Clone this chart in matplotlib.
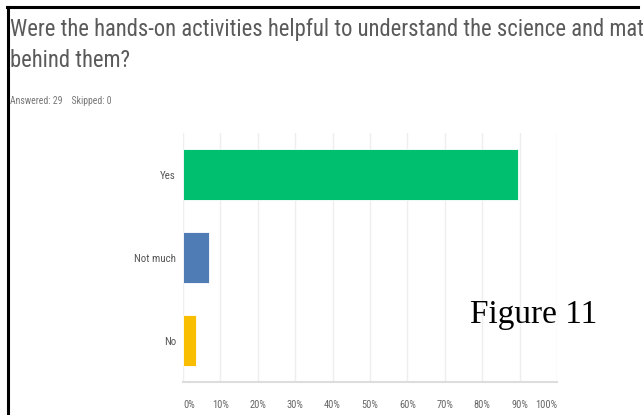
import matplotlib
matplotlib.use('Agg')
import matplotlib.pyplot as plt
from matplotlib.lines import Line2D

### données

reponses = ['Yes', 'Not much', 'No']
pourcentages = [89.66, 6.90, 3.45]
couleurs = ['#00BF6F', '#507CB6', '#F9BE00']
graduations = [0, 10, 20, 30, 40, 50, 60, 70, 80, 90, 100]
titre = 'Were the hands-on activities helpful to understand the science and math\nbehind them?'
sous_titre = 'Answered: 29    Skipped: 0'

police = ['Liberation Sans Narrow', 'Roboto Condensed', 'DejaVu Sans']

fig = plt.figure(figsize=(6.43, 4.15), dpi=100)
ax = fig.add_axes([0.2846, 0.0795, 0.5817, 0.6])

ax.barh(range(len(reponses)), pourcentages, height=0.62, color=couleurs,
        edgecolor='white', linewidth=0.6, zorder=3)
ax.set_ylim(2.5, -0.5)
ax.set_xlim(0, 100)
ax.set_xticks(graduations)
etiquettes = ax.set_xticklabels([str(g) + '%' for g in graduations], family=police,
                                fontsize=7.5, color='#666666')
etiquettes[0].set_ha('left')
etiquettes[-1].set_ha('right')
ax.set_yticks(range(len(reponses)))
ax.set_yticklabels(reponses, family=police, fontsize=7.8, color='#555555')
ax.tick_params(length=0, pad=5)
ax.tick_params(axis='x', pad=13)
ax.grid(axis='x', color='#eeeeee', linewidth=1, zorder=0)
for s in ['top', 'right', 'left']:
    ax.spines[s].set_visible(False)
ax.spines['bottom'].set_color('#dddddd')
ax.spines['bottom'].set_linewidth(1.5)

# titre et infos
fig.text(10/643, 1 - 18/415, titre, family=police, fontsize=16.3,
         color='#5a5a5a', va='top', ha='left', linespacing=1.47)
fig.text(10/643, 1 - 101/415, sous_titre, family=police, fontsize=7, color='#777777',
         va='center', ha='left')

fig.text(534/643, 1 - 315/415, 'Figure 11', family='Liberation Serif', fontsize=24,
         color='black', va='center', ha='center')

# cadre noir
fig.add_artist(Line2D([7/643, 638/643], [1 - 7/415, 1 - 7/415], color='black', linewidth=2.2))
fig.add_artist(Line2D([7.5/643, 7.5/643], [1 - 7/415, 0], color='black', linewidth=2.2))

fig.savefig('out.png', dpi=100)
